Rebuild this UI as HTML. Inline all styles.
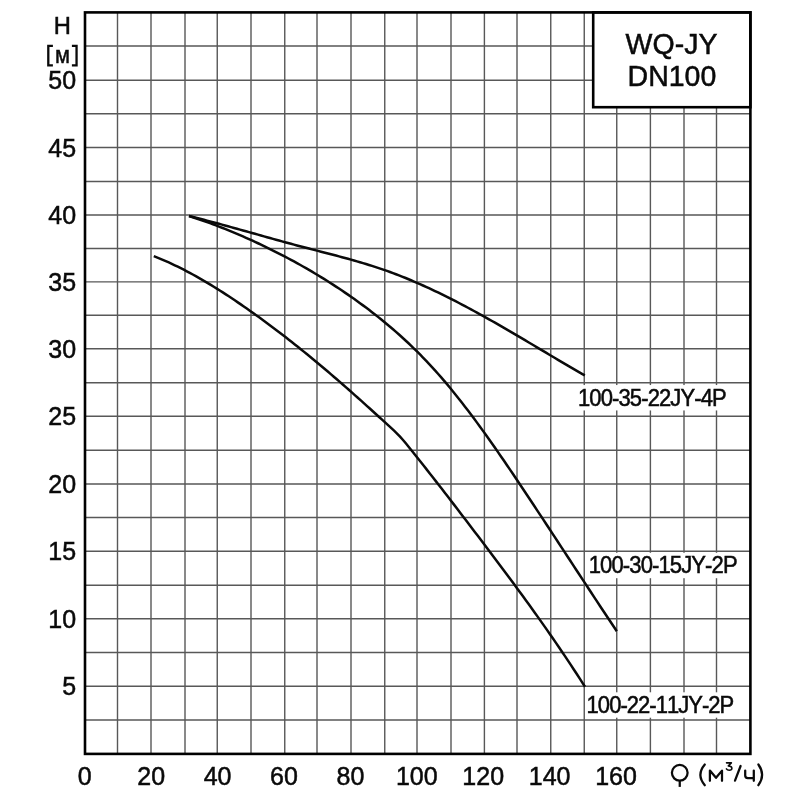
<!DOCTYPE html>
<html lang="ru"><head><meta charset="utf-8"><title>WQ-JY DN100</title>
<style>
html,body{margin:0;padding:0;background:#fff;}
body{width:800px;height:800px;overflow:hidden;}
svg{display:block;}
svg{filter:grayscale(100%);}
text{font-family:"Liberation Sans",sans-serif;fill:#0a0a0a;stroke:#0a0a0a;stroke-width:0.5;font-kerning:none;}
.ax{font-size:25.0px;}
.lb{font-size:22.0px;letter-spacing:-1.0px;}
.bx{font-size:28.5px;}
.g{stroke:#585858;stroke-width:1.4;fill:none;}
.c{stroke:#0a0a0a;stroke-width:2.5;fill:none;stroke-linecap:butt;stroke-linejoin:round;}
.u{stroke:#0a0a0a;stroke-width:2.25;fill:none;stroke-linecap:round;stroke-linejoin:round;}
.br{stroke:#0a0a0a;stroke-width:2.3;fill:none;stroke-linecap:butt;stroke-linejoin:miter;}
</style></head><body>
<svg width="800" height="800" viewBox="0 0 800 800">
<rect x="0" y="0" width="800" height="800" fill="#fff"/>
<path class="g" d="M117.50 12.4 V753.9M151.00 12.4 V753.9M185.00 12.4 V753.9M217.25 12.4 V753.9M251.00 12.4 V753.9M284.75 12.4 V753.9M317.00 12.4 V753.9M351.00 12.4 V753.9M384.75 12.4 V753.9M417.00 12.4 V753.9M451.00 12.4 V753.9M484.40 12.4 V753.9M517.00 12.4 V753.9M550.75 12.4 V753.9M584.25 12.4 V753.9M616.75 12.4 V753.9M650.40 12.4 V753.9M684.00 12.4 V753.9M716.50 12.4 V753.9M85.0 46.00 H750.4M85.0 80.25 H750.4M85.0 113.75 H750.4M85.0 147.50 H750.4M85.0 181.50 H750.4M85.0 215.00 H750.4M85.0 248.50 H750.4M85.0 281.90 H750.4M85.0 315.25 H750.4M85.0 348.75 H750.4M85.0 382.75 H750.4M85.0 416.25 H750.4M85.0 450.25 H750.4M85.0 484.00 H750.4M85.0 517.50 H750.4M85.0 551.25 H750.4M85.0 585.25 H750.4M85.0 618.75 H750.4M85.0 652.50 H750.4M85.0 686.25 H750.4M85.0 720.00 H750.4"/>
<rect x="577.50" y="385.05" width="150.00" height="25.40" fill="#fff"/>
<rect x="588.30" y="552.80" width="150.00" height="25.40" fill="#fff"/>
<rect x="586.20" y="692.30" width="150.00" height="25.40" fill="#fff"/>
<path class="c" d="M189.00 216.00 L192.00 216.74 L195.00 217.50 L198.00 218.26 L201.00 219.03 L204.00 219.81 L207.00 220.60 L210.00 221.39 L213.00 222.19 L216.00 222.99 L219.00 223.81 L222.00 224.62 L225.00 225.44 L228.00 226.27 L231.00 227.10 L234.00 227.93 L237.00 228.77 L240.00 229.60 L243.00 230.45 L246.00 231.29 L249.00 232.13 L252.00 232.97 L255.00 233.82 L258.00 234.66 L261.00 235.51 L264.00 236.35 L267.00 237.19 L270.00 238.03 L273.00 238.87 L276.00 239.70 L279.00 240.53 L282.00 241.36 L285.00 242.18 L288.00 243.00 L291.00 243.82 L294.00 244.63 L297.00 245.43 L300.00 246.23 L303.00 247.02 L306.00 247.80 L309.00 248.58 L312.00 249.36 L315.00 250.13 L318.00 250.90 L321.00 251.68 L324.00 252.45 L327.00 253.23 L330.00 254.01 L333.00 254.79 L336.00 255.58 L339.00 256.37 L342.00 257.18 L345.00 257.99 L348.00 258.81 L351.00 259.65 L354.00 260.49 L357.00 261.35 L360.00 262.22 L363.00 263.11 L366.00 264.01 L369.00 264.94 L372.00 265.88 L375.00 266.84 L378.00 267.82 L381.00 268.83 L384.00 269.85 L387.00 270.91 L390.00 271.98 L393.00 273.09 L396.00 274.22 L399.00 275.37 L402.00 276.56 L405.00 277.76 L408.00 279.00 L411.00 280.25 L414.00 281.53 L417.00 282.83 L420.00 284.15 L423.00 285.49 L426.00 286.85 L429.00 288.23 L432.00 289.63 L435.00 291.05 L438.00 292.48 L441.00 293.94 L444.00 295.41 L447.00 296.90 L450.00 298.40 L453.00 299.92 L456.00 301.46 L459.00 303.01 L462.00 304.58 L465.00 306.16 L468.00 307.76 L471.00 309.37 L474.00 310.99 L477.00 312.63 L480.00 314.28 L483.00 315.94 L486.00 317.61 L489.00 319.29 L492.00 320.99 L495.00 322.69 L498.00 324.41 L501.00 326.13 L504.00 327.86 L507.00 329.61 L510.00 331.35 L513.00 333.11 L516.00 334.87 L519.00 336.64 L522.00 338.41 L525.00 340.19 L528.00 341.97 L531.00 343.75 L534.00 345.54 L537.00 347.32 L540.00 349.11 L543.00 350.90 L546.00 352.69 L549.00 354.47 L552.00 356.26 L555.00 358.04 L558.00 359.82 L561.00 361.59 L564.00 363.36 L567.00 365.13 L570.00 366.89 L573.00 368.64 L576.00 370.38 L579.00 372.12 L582.00 373.85 L584.80 375.45"/>
<path class="c" d="M189.00 216.00 L192.00 216.96 L195.00 217.95 L198.00 218.95 L201.00 219.98 L204.00 221.02 L207.00 222.09 L210.00 223.18 L213.00 224.28 L216.00 225.41 L219.00 226.56 L222.00 227.73 L225.00 228.91 L228.00 230.12 L231.00 231.35 L234.00 232.60 L237.00 233.86 L240.00 235.15 L243.00 236.45 L246.00 237.77 L249.00 239.12 L252.00 240.48 L255.00 241.86 L258.00 243.25 L261.00 244.67 L264.00 246.11 L267.00 247.56 L270.00 249.03 L273.00 250.52 L276.00 252.02 L279.00 253.55 L282.00 255.10 L285.00 256.66 L288.00 258.24 L291.00 259.85 L294.00 261.47 L297.00 263.12 L300.00 264.78 L303.00 266.47 L306.00 268.18 L309.00 269.92 L312.00 271.67 L315.00 273.45 L318.00 275.25 L321.00 277.08 L324.00 278.93 L327.00 280.80 L330.00 282.70 L333.00 284.63 L336.00 286.58 L339.00 288.56 L342.00 290.56 L345.00 292.59 L348.00 294.65 L351.00 296.74 L354.00 298.85 L357.00 301.00 L360.00 303.17 L363.00 305.37 L366.00 307.60 L369.00 309.86 L372.00 312.16 L375.00 314.49 L378.00 316.86 L381.00 319.26 L384.00 321.70 L387.00 324.19 L390.00 326.71 L393.00 329.27 L396.00 331.88 L399.00 334.54 L402.00 337.24 L405.00 339.99 L408.00 342.78 L411.00 345.63 L414.00 348.53 L417.00 351.48 L420.00 354.48 L423.00 357.54 L426.00 360.66 L429.00 363.84 L432.00 367.07 L435.00 370.37 L438.00 373.73 L441.00 377.15 L444.00 380.63 L447.00 384.18 L450.00 387.78 L453.00 391.45 L456.00 395.17 L459.00 398.94 L462.00 402.77 L465.00 406.65 L468.00 410.58 L471.00 414.55 L474.00 418.57 L477.00 422.63 L480.00 426.73 L483.00 430.87 L486.00 435.05 L489.00 439.27 L492.00 443.52 L495.00 447.80 L498.00 452.11 L501.00 456.45 L504.00 460.82 L507.00 465.21 L510.00 469.63 L513.00 474.06 L516.00 478.52 L519.00 482.99 L522.00 487.48 L525.00 491.98 L528.00 496.49 L531.00 501.01 L534.00 505.54 L537.00 510.08 L540.00 514.63 L543.00 519.18 L546.00 523.73 L549.00 528.30 L552.00 532.86 L555.00 537.43 L558.00 542.01 L561.00 546.58 L564.00 551.16 L567.00 555.74 L570.00 560.31 L573.00 564.89 L576.00 569.47 L579.00 574.04 L582.00 578.62 L585.00 583.18 L588.00 587.75 L591.00 592.31 L594.00 596.87 L597.00 601.42 L600.00 605.96 L603.00 610.50 L606.00 615.02 L609.00 619.54 L612.00 624.05 L615.00 628.55 L616.80 631.25"/>
<path class="c" d="M153.80 256.20 L156.80 257.37 L159.80 258.58 L162.80 259.84 L165.80 261.13 L168.80 262.47 L171.80 263.84 L174.80 265.26 L177.80 266.71 L180.80 268.20 L183.80 269.72 L186.80 271.28 L189.80 272.87 L192.80 274.50 L195.80 276.16 L198.80 277.85 L201.80 279.57 L204.80 281.32 L207.80 283.10 L210.80 284.91 L213.80 286.75 L216.80 288.61 L219.80 290.50 L222.80 292.42 L225.80 294.36 L228.80 296.32 L231.80 298.31 L234.80 300.31 L237.80 302.34 L240.80 304.39 L243.80 306.45 L246.80 308.54 L249.80 310.65 L252.80 312.77 L255.80 314.91 L258.80 317.07 L261.80 319.25 L264.80 321.45 L267.80 323.67 L270.80 325.90 L273.80 328.16 L276.80 330.43 L279.80 332.71 L282.80 335.02 L285.80 337.34 L288.80 339.68 L291.80 342.03 L294.80 344.41 L297.80 346.80 L300.80 349.20 L303.80 351.62 L306.80 354.06 L309.80 356.51 L312.80 358.98 L315.80 361.47 L318.80 363.97 L321.80 366.48 L324.80 369.01 L327.80 371.56 L330.80 374.12 L333.80 376.69 L336.80 379.28 L339.80 381.88 L342.80 384.50 L345.80 387.13 L348.80 389.77 L351.80 392.42 L354.80 395.08 L357.80 397.75 L360.80 400.43 L363.80 403.12 L366.80 405.82 L369.80 408.53 L372.80 411.25 L375.80 413.98 L378.80 416.71 L381.80 419.44 L384.80 422.19 L387.80 424.94 L390.80 427.69 L393.80 430.45 L396.80 433.30 L399.80 436.35 L402.80 439.72 L405.80 443.32 L408.80 447.02 L411.80 450.76 L414.80 454.50 L417.80 458.26 L420.80 462.04 L423.80 465.83 L426.80 469.63 L429.80 473.45 L432.80 477.28 L435.80 481.12 L438.80 484.97 L441.80 488.83 L444.80 492.71 L447.80 496.59 L450.80 500.48 L453.80 504.38 L456.80 508.29 L459.80 512.21 L462.80 516.14 L465.80 520.07 L468.80 524.00 L471.80 527.95 L474.80 531.89 L477.80 535.85 L480.80 539.80 L483.80 543.77 L486.80 547.73 L489.80 551.70 L492.80 555.68 L495.80 559.67 L498.80 563.66 L501.80 567.67 L504.80 571.69 L507.80 575.72 L510.80 579.76 L513.80 583.82 L516.80 587.89 L519.80 591.97 L522.80 596.08 L525.80 600.20 L528.80 604.34 L531.80 608.51 L534.80 612.69 L537.80 616.89 L540.80 621.12 L543.80 625.37 L546.80 629.65 L549.80 633.96 L552.80 638.29 L555.80 642.64 L558.80 647.03 L561.80 651.45 L564.80 655.90 L567.80 660.38 L570.80 664.90 L573.80 669.45 L576.80 674.03 L579.80 678.65 L582.80 683.31 L585.00 686.75"/>
<rect x="593.20" y="12.40" width="157.20" height="94.80" fill="#fff" stroke="#000" stroke-width="2.6"/>
<text class="bx" transform="translate(671.50 54.30) scale(1 1.04)" text-anchor="middle">WQ-JY</text>
<text class="bx" transform="translate(671.90 85.80) scale(1 1.04)" text-anchor="middle">DN100</text>
<rect x="85.00" y="12.40" width="665.40" height="741.50" fill="none" stroke="#000" stroke-width="2.6"/>
<text class="lb" transform="translate(577.90 405.65) scale(1 1.08)" text-anchor="start" style="letter-spacing:-0.86px">100-35-22JY-4P</text>
<text class="lb" transform="translate(588.70 573.40) scale(1 1.1)" text-anchor="start" style="letter-spacing:-0.86px">100-30-15JY-2P</text>
<text class="lb" transform="translate(586.60 712.90) scale(1 1.08)" text-anchor="start" style="letter-spacing:-0.96px">100-22-11JY-2P</text>
<text class="ax" transform="translate(76.10 695.25) scale(1 1.04)" text-anchor="end">5</text>
<text class="ax" transform="translate(76.10 627.75) scale(1 1.04)" text-anchor="end">10</text>
<text class="ax" transform="translate(76.10 560.25) scale(1 1.04)" text-anchor="end">15</text>
<text class="ax" transform="translate(76.10 493.00) scale(1 1.04)" text-anchor="end">20</text>
<text class="ax" transform="translate(76.10 425.25) scale(1 1.04)" text-anchor="end">25</text>
<text class="ax" transform="translate(76.10 357.75) scale(1 1.04)" text-anchor="end">30</text>
<text class="ax" transform="translate(76.10 290.90) scale(1 1.04)" text-anchor="end">35</text>
<text class="ax" transform="translate(76.10 224.00) scale(1 1.04)" text-anchor="end">40</text>
<text class="ax" transform="translate(76.10 156.50) scale(1 1.04)" text-anchor="end">45</text>
<text class="ax" transform="translate(76.10 89.25) scale(1 1.04)" text-anchor="end">50</text>
<text class="ax" transform="translate(62.20 33.85) scale(0.95 0.98)" text-anchor="middle">H</text>
<text x="62.45" y="62.65" text-anchor="middle" style="font-size:24.4px" textLength="15.0" lengthAdjust="spacingAndGlyphs">м</text>
<path class="br" d="M52.9 45.95 H48.3 V65.35 H52.9 M71.9 45.95 H76.55 V65.35 H71.9"/>
<text class="ax" transform="translate(84.80 785.00) scale(1 1.04)" text-anchor="middle">0</text>
<text class="ax" transform="translate(151.20 785.00) scale(1 1.04)" text-anchor="middle">20</text>
<text class="ax" transform="translate(217.60 785.00) scale(1 1.04)" text-anchor="middle">40</text>
<text class="ax" transform="translate(284.00 785.00) scale(1 1.04)" text-anchor="middle">60</text>
<text class="ax" transform="translate(350.40 785.00) scale(1 1.04)" text-anchor="middle">80</text>
<text class="ax" transform="translate(416.80 785.00) scale(1 1.04)" text-anchor="middle">100</text>
<text class="ax" transform="translate(483.20 785.00) scale(1 1.04)" text-anchor="middle">120</text>
<text class="ax" transform="translate(549.60 785.00) scale(1 1.04)" text-anchor="middle">140</text>
<text class="ax" transform="translate(616.00 785.00) scale(1 1.04)" text-anchor="middle">160</text>
<g class="u">
<circle cx="679.75" cy="772.8" r="7.85"/>
<path d="M679.75 780.6 V786.9" style="stroke-linecap:butt"/>
<path d="M704.8 764.5 Q696.0 774.85 704.8 785.2"/>
<path d="M709.9 780.8 V770.6 L716 777.8 L722 770.6 V780.8"/>
<path d="M726.5 762.85 H731.4 L728.3 765.9 Q731.9 765.9 731.9 768.2 Q731.9 770.2 729.2 770.2 Q727.2 770.2 726.4 768.8" style="stroke-width:1.55"/>
<path d="M740.6 766.0 L735.0 780.7"/>
<path d="M745.2 770.6 V775.5 Q745.2 778.05 747.8 778.05 H753.8 M753.8 770.6 V780.8"/>
<path d="M758.4 764.5 Q765.8 774.85 758.4 785.2"/>
</g>
</svg></body></html>
